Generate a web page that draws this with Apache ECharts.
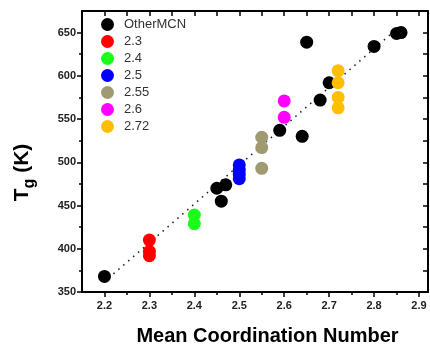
<!DOCTYPE html>
<html>
<head>
<meta charset="utf-8">
<script src="https://cdn.jsdelivr.net/npm/echarts@6/dist/echarts.min.js"></script>
<style>
  html, body { margin: 0; padding: 0; background: #fff; }
  #chart { width: 430px; height: 346px; }
</style>
</head>
<body>
<div id="chart"></div>
<script>
// values
const otherX = [2.2, 2.45, 2.47, 2.46, 2.59, 2.64, 2.65, 2.68, 2.70, 2.80, 2.85, 2.86]
const otherY = [368, 470, 474, 455, 537, 530, 639, 572, 592, 634, 649, 650]
const mcnGroups = ['2.3', '2.4', '2.5', '2.55', '2.6', '2.72']
const mcn23Y = [410, 397, 392]
const mcn24Y = [439, 429]
const mcn25Y = [497, 491, 486, 481]
const mcn255Y = [529, 517, 493]
const mcn26Y = [571, 552]
const mcn272Y = [606, 592, 575, 563]
const fitX = [2.22, 2.85]
const fitY = [371, 654]
const xTicks = [2.2, 2.3, 2.4, 2.5, 2.6, 2.7, 2.8, 2.9]
const xMinor = [2.25, 2.35, 2.45, 2.55, 2.65, 2.75, 2.85]
const yTicks = [350, 400, 450, 500, 550, 600, 650]
const yMinor = [375, 425, 475, 525, 575, 625]

const groupY = [mcn23Y, mcn24Y, mcn25Y, mcn255Y, mcn26Y, mcn272Y]
const groupColors = ['#ff0000', '#19ff19', '#0000ff', '#a09a72', '#ff00ff', '#ffbf00']
const font = 'Arial, "Liberation Sans", sans-serif'

const myChart = echarts.init(document.getElementById('chart'))

const baseAxis = (extra) => Object.assign({
    type: 'value',
    splitLine: { show: false },
    axisLine: { show: false },
    axisLabel: { show: false },
    axisTick: { show: false }
}, extra)

const series = [
    {
        name: 'fit',
        type: 'line',
        data: fitX.map((x, i) => [x, fitY[i]]),
        symbol: 'none',
        silent: true,
        lineStyle: { color: '#222', width: 1.5, type: [1.5, 5] },
        z: 1
    },
    {
        name: 'OtherMCN',
        type: 'scatter',
        data: otherX.map((x, i) => [x, otherY[i]]),
        symbolSize: 13,
        itemStyle: { color: '#000', opacity: 1 },
        z: 3
    }
]
mcnGroups.forEach((g, k) => {
    series.push({
        name: g,
        type: 'scatter',
        data: groupY[k].map(y => [Number(g), y]),
        symbolSize: 13,
        itemStyle: { color: groupColors[k], opacity: 1 },
        z: 3
    })
})

myChart.setOption({
    animation: false,
    backgroundColor: '#fff',
    textStyle: { fontFamily: font },
    grid: { left: 82, right: 2, top: 11, bottom: 54, containLabel: false, outerBoundsMode: 'none' },
    legend: {
        data: ['OtherMCN'].concat(mcnGroups),
        orient: 'vertical',
        left: 96,
        top: 13,
        icon: 'circle',
        itemWidth: 13,
        itemHeight: 13,
        itemGap: 4,
        textStyle: { fontSize: 13, color: '#333', fontFamily: font, padding: [0, 0, 0, 5] }
    },
    xAxis: [
        baseAxis({
            position: 'bottom', min: 2.15, max: 2.92,
            axisLine: { show: true, onZero: false, lineStyle: { color: '#000', width: 2 } },
            axisTick: { show: true, customValues: xTicks, length: 5, lineStyle: { color: '#000', width: 1.5 } },
            axisLabel: { show: true, customValues: xTicks, formatter: v => v.toFixed(1), color: '#222', fontSize: 11, fontWeight: 'bold', margin: 8 },
            name: 'Mean Coordination Number',
            nameLocation: 'middle',
            nameGap: 34,
            nameTextStyle: { fontSize: 20, fontWeight: 'bold', color: '#000', padding: [0, 0, 0, 25] }
        }),
        baseAxis({
            position: 'bottom', min: 2.15, max: 2.92,
            axisTick: { show: true, customValues: xMinor, length: 3, lineStyle: { color: '#000', width: 1.5 } }
        }),
        baseAxis({
            position: 'top', min: 2.15, max: 2.92,
            axisLine: { show: true, onZero: false, lineStyle: { color: '#000', width: 2 } },
            axisTick: { show: true, inside: true, customValues: xTicks.concat(xMinor), length: 5, lineStyle: { color: '#000', width: 1.5 } }
        })
    ],
    yAxis: [
        baseAxis({
            position: 'left', min: 350, max: 675,
            axisLine: { show: true, onZero: false, lineStyle: { color: '#000', width: 2 } },
            axisTick: { show: true, customValues: yTicks, length: 5, lineStyle: { color: '#000', width: 1.5 } },
            axisLabel: { show: true, customValues: yTicks, color: '#222', fontSize: 11, fontWeight: 'bold', margin: 6 },
            name: 'T{g|g} (K)',
            nameLocation: 'middle',
            nameGap: 44,
            nameTextStyle: {
                fontSize: 21, fontWeight: 'bold', color: '#000', padding: [0, 42, 0, 0],
                rich: { g: { fontSize: 16, fontWeight: 'bold', color: '#000', verticalAlign: 'bottom', padding: [16, 0, 0, 0] } }
            }
        }),
        baseAxis({
            position: 'left', min: 350, max: 675,
            axisTick: { show: true, customValues: yMinor, length: 3, lineStyle: { color: '#000', width: 1.5 } }
        }),
        baseAxis({
            position: 'right', min: 350, max: 675,
            axisLine: { show: true, onZero: false, lineStyle: { color: '#000', width: 2 } },
            axisTick: { show: true, inside: true, customValues: yTicks.concat(yMinor), length: 5, lineStyle: { color: '#000', width: 1.5 } }
        })
    ],
    series: series
})
</script>
</body>
</html>
